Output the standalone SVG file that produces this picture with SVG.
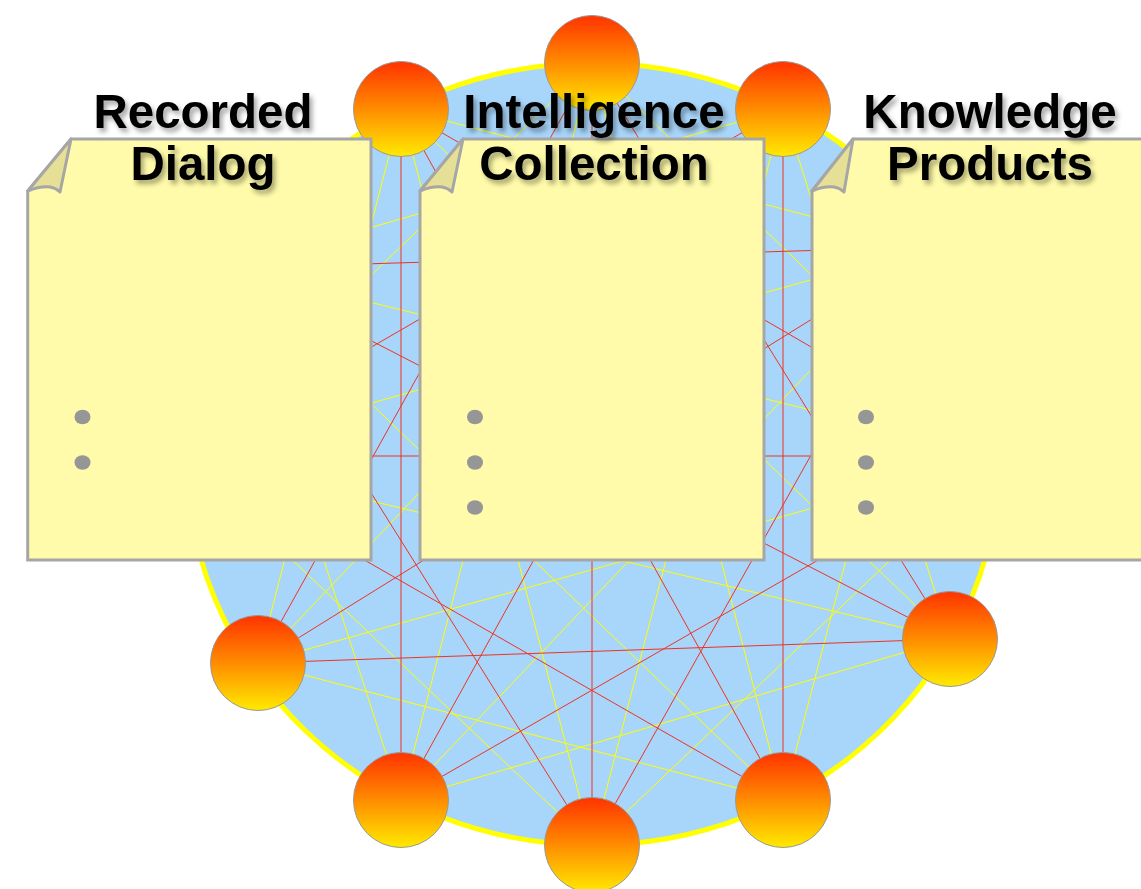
<svg xmlns="http://www.w3.org/2000/svg" width="1141" height="889" viewBox="0 0 1141 889">
<defs>
<linearGradient id="ball" x1="0" y1="0" x2="0" y2="1">
<stop offset="0" stop-color="#ff3300"/>
<stop offset="0.5" stop-color="#ff8c00"/>
<stop offset="1" stop-color="#ffea00"/>
</linearGradient>
<filter id="ts" x="-10%" y="-30%" width="130%" height="180%">
<feGaussianBlur in="SourceAlpha" stdDeviation="2.5"/>
<feOffset dx="3" dy="4" result="b"/>
<feFlood flood-color="#000" flood-opacity="0.35"/>
<feComposite in2="b" operator="in"/>
<feMerge><feMergeNode/><feMergeNode in="SourceGraphic"/></feMerge>
</filter>
<style>
.y{stroke:#ffff00;stroke-width:1;fill:none}
.r{stroke:#ee3322;stroke-width:1;fill:none}
.node{fill:url(#ball);stroke:#999;stroke-width:1}
.page{fill:#fffbaa;stroke:#a6a6a6;stroke-width:3;stroke-linejoin:miter}
.flap{fill:#e6e096;stroke:#a6a6a6;stroke-width:3;stroke-linejoin:round}
.dot{fill:#969696}
.t{font-family:"Liberation Sans",Arial,sans-serif;font-weight:bold;font-size:47.5px;fill:#000;text-anchor:middle;filter:url(#ts)}
</style>
</defs>
<rect width="1141" height="889" fill="#fff"/>
<ellipse id="ring" cx="593" cy="454" rx="407" ry="391" fill="#a8d5fa" stroke="#ffff00" stroke-width="5"/>
<g id="connectors">
<g class="y">
<line x1="592" y1="63" x2="999" y2="456"/>
<line x1="783" y1="109" x2="950" y2="639"/>
<line x1="928" y1="247" x2="783" y2="800"/>
<line x1="999" y1="456" x2="592" y2="845"/>
<line x1="950" y1="639" x2="401" y2="800"/>
<line x1="783" y1="800" x2="258" y2="663"/>
<line x1="592" y1="845" x2="183" y2="456"/>
<line x1="401" y1="800" x2="230" y2="268"/>
<line x1="258" y1="663" x2="401" y2="109"/>
<line x1="183" y1="456" x2="592" y2="63"/>
<line x1="230" y1="268" x2="783" y2="109"/>
<line x1="401" y1="109" x2="928" y2="247"/>
<line x1="592" y1="63" x2="783" y2="800"/>
<line x1="783" y1="109" x2="592" y2="845"/>
<line x1="928" y1="247" x2="401" y2="800"/>
<line x1="999" y1="456" x2="258" y2="663"/>
<line x1="950" y1="639" x2="183" y2="456"/>
<line x1="783" y1="800" x2="230" y2="268"/>
<line x1="592" y1="845" x2="401" y2="109"/>
<line x1="401" y1="800" x2="592" y2="63"/>
<line x1="258" y1="663" x2="783" y2="109"/>
<line x1="183" y1="456" x2="928" y2="247"/>
<line x1="230" y1="268" x2="999" y2="456"/>
<line x1="401" y1="109" x2="950" y2="639"/>
</g>
<g class="r">
<line x1="592" y1="63" x2="950" y2="639"/>
<line x1="783" y1="109" x2="783" y2="800"/>
<line x1="928" y1="247" x2="592" y2="845"/>
<line x1="999" y1="456" x2="401" y2="800"/>
<line x1="950" y1="639" x2="258" y2="663"/>
<line x1="783" y1="800" x2="183" y2="456"/>
<line x1="592" y1="845" x2="230" y2="268"/>
<line x1="401" y1="800" x2="401" y2="109"/>
<line x1="258" y1="663" x2="592" y2="63"/>
<line x1="183" y1="456" x2="783" y2="109"/>
<line x1="230" y1="268" x2="928" y2="247"/>
<line x1="401" y1="109" x2="999" y2="456"/>
<line x1="592" y1="63" x2="592" y2="845"/>
<line x1="783" y1="109" x2="401" y2="800"/>
<line x1="928" y1="247" x2="258" y2="663"/>
<line x1="999" y1="456" x2="183" y2="456"/>
<line x1="950" y1="639" x2="230" y2="268"/>
<line x1="783" y1="800" x2="401" y2="109"/>
</g>
</g>
<g id="node-n2"><circle class="node" cx="928" cy="247" r="47.5"/></g>
<g id="node-n3"><circle class="node" cx="999" cy="456" r="47.5"/></g>
<g id="node-n9"><circle class="node" cx="183" cy="456" r="47.5"/></g>
<g id="node-n10"><circle class="node" cx="230" cy="268" r="47.5"/></g>
<g id="node-top"><circle class="node" cx="592" cy="63" r="47.5"/></g>
<g id="node-top-right"><circle class="node" cx="783" cy="109" r="47.5"/></g>
<g id="node-right"><circle class="node" cx="950" cy="639" r="47.5"/></g>
<g id="node-bottom-right"><circle class="node" cx="783" cy="800" r="47.5"/></g>
<g id="node-bottom"><circle class="node" cx="592" cy="845" r="47.5"/></g>
<g id="node-bottom-left"><circle class="node" cx="401" cy="800" r="47.5"/></g>
<g id="node-left"><circle class="node" cx="258" cy="663" r="47.5"/></g>
<g id="node-top-left"><circle class="node" cx="401" cy="109" r="47.5"/></g>
<g id="doc-recorded-dialog">
<path class="page" d="M71,139 H371 V560 H27.7 V191 Z"/>
<path class="flap" d="M71,139 L27.7,191 Q40,186 50,187 Q56,188 60,192 Z"/>
<ellipse class="dot" cx="82.5" cy="417" rx="8" ry="7.3"/>
<ellipse class="dot" cx="82.5" cy="462.5" rx="8" ry="7.3"/>
<text class="t" x="203" y="128">Recorded</text>
<text class="t" x="203" y="180">Dialog</text>
</g>
<g id="doc-intelligence-collection">
<path class="page" d="M463,139 H764 V560 H420 V191 Z"/>
<path class="flap" d="M463,139 L420,191 Q432,186 442,187 Q448,188 452,192 Z"/>
<ellipse class="dot" cx="475" cy="417" rx="8" ry="7.3"/>
<ellipse class="dot" cx="475" cy="462.5" rx="8" ry="7.3"/>
<ellipse class="dot" cx="475" cy="507.5" rx="8" ry="7.3"/>
<text class="t" x="594" y="128">Intelligence</text>
<text class="t" x="594" y="180">Collection</text>
</g>
<g id="doc-knowledge-products">
<path class="page" d="M853,139 H1170 V560 H812 V191 Z"/>
<path class="flap" d="M853,139 L812,191 Q824,186 834,187 Q840,188 844,192 Z"/>
<ellipse class="dot" cx="866" cy="417" rx="8" ry="7.3"/>
<ellipse class="dot" cx="866" cy="462.5" rx="8" ry="7.3"/>
<ellipse class="dot" cx="866" cy="507.5" rx="8" ry="7.3"/>
<text class="t" x="990" y="128">Knowledge</text>
<text class="t" x="990" y="180">Products</text>
</g>
</svg>
